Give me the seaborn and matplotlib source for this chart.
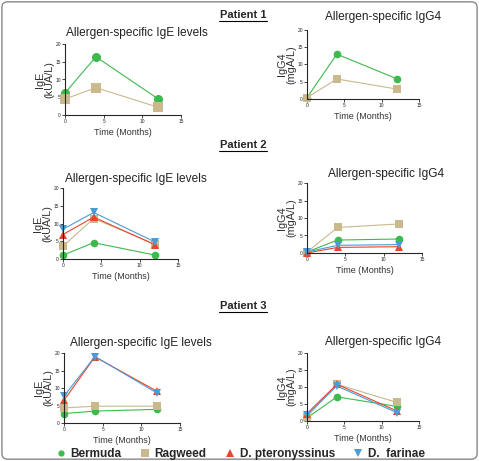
import matplotlib
matplotlib.use("Agg")
import matplotlib.pyplot as plt
import seaborn as sns
import pandas as pd
from matplotlib.patches import FancyBboxPatch
from matplotlib.lines import Line2D

# ------------ data ------------ #
months = [0, 4, 12]
allergens = ["Bermuda", "Ragweed", "D. pteronyssinus", "D.  farinae"]

p1_ige = {"Bermuda": [6.2, 16.4, 4.6], "Ragweed": [4.5, 7.7, 2.2]}
p1_igg4 = {"Bermuda": [0.4, 13.0, 5.9], "Ragweed": [0.4, 5.8, 2.9]}

p2_ige = {"Bermuda": [1.1, 4.6, 1.1], "Ragweed": [3.6, 11.4, 4.2],
          "D. pteronyssinus": [6.9, 11.8, 4.0], "D.  farinae": [8.4, 13.1, 4.8]}
p2_igg4 = {"Bermuda": [0.3, 3.7, 4.0], "Ragweed": [0.3, 7.3, 8.3],
           "D. pteronyssinus": [0.0, 1.6, 1.8], "D.  farinae": [0.3, 2.2, 2.4]}

p3_ige = {"Bermuda": [2.7, 3.4, 3.9], "Ragweed": [4.3, 4.8, 4.8],
          "D. pteronyssinus": [6.5, 18.9, 9.1], "D.  farinae": [7.7, 19.0, 8.6]}
p3_igg4 = {"Bermuda": [0.9, 7.1, 4.3], "Ragweed": [1.2, 10.8, 5.5],
           "D. pteronyssinus": [2.2, 10.8, 3.0], "D.  farinae": [1.8, 10.3, 2.5]}

colors = {"Bermuda": "#3dba4e", "Ragweed": "#c9b98c",
          "D. pteronyssinus": "#e8452c", "D.  farinae": "#4b9bd6"}
markers = {"Bermuda": "o", "Ragweed": "s", "D. pteronyssinus": "^", "D.  farinae": "v"}


def to_long(d):
    rows = []
    for k, vals in d.items():
        for m, v in zip(months, vals):
            rows.append({"Month": m, "Value": v, "Allergen": k})
    return pd.DataFrame(rows)


sns.set_style("ticks")
plt.rcParams["font.family"] = ["Liberation Sans", "DejaVu Sans"]

W, H = 479, 461
fig = plt.figure(figsize=(W / 100, H / 100), dpi=100)


def px_axes(x0, x1, ytop, ybot):
    return fig.add_axes([x0 / W, 1 - ybot / H, (x1 - x0) / W, (ybot - ytop) / H])


def panel(ax, d, ylabel, title, tx, ty, msize):
    df = to_long(d)
    keys = list(d.keys())
    sns.lineplot(data=df, x="Month", y="Value", hue="Allergen", style="Allergen",
                 hue_order=keys, style_order=keys,
                 palette={k: colors[k] for k in keys},
                 markers={k: markers[k] for k in keys}, dashes=False,
                 markersize=msize, markeredgewidth=0, linewidth=0.8,
                 legend=False, ax=ax, clip_on=False)
    ax.set_xlim(0, 15)
    ax.set_ylim(0, 20)
    ax.set_xticks([0, 5, 10, 15])
    ax.set_yticks([0, 5, 10, 15, 20])
    ax.tick_params(labelsize=3.5, length=2, width=0.6, pad=1)
    for s in ["left", "bottom"]:
        ax.spines[s].set_linewidth(0.8)
    sns.despine(ax=ax)
    ax.set_xlabel("Time (Months)", fontsize=6.5, labelpad=3, color="#333333")
    ax.set_ylabel(ylabel, fontsize=7.8, labelpad=1, linespacing=0.9, color="#333333")
    fig.text(tx / W, 1 - ty / H, title, ha="center", va="center", fontsize=8.6, color="#222222")


ige_lab = "IgE\n(kUA/L)"
igg_lab = "IgG4\n(mgA/L)"

panel(px_axes(65, 181, 44, 115), p1_ige, ige_lab, "Allergen-specific IgE levels", 137, 33, 6.5)
panel(px_axes(307, 419, 30, 99), p1_igg4, igg_lab, "Allergen-specific IgG4", 383, 17, 5.5)
panel(px_axes(63, 178, 188, 259), p2_ige, ige_lab, "Allergen-specific IgE levels", 136, 179, 5.5)
panel(px_axes(307, 422, 183, 253), p2_igg4, igg_lab, "Allergen-specific IgG4", 386, 174, 5.5)
panel(px_axes(64, 180, 353, 423), p3_ige, ige_lab, "Allergen-specific IgE levels", 141, 343, 5.5)
panel(px_axes(307, 419, 353, 421), p3_igg4, igg_lab, "Allergen-specific IgG4", 383, 342, 5.5)

# patient headings
for label, y in [("Patient 1", 15), ("Patient 2", 145), ("Patient 3", 306)]:
    fig.text(243 / W, 1 - y / H, label, ha="center", va="center",
             fontsize=8, fontweight="bold")
    fig.add_artist(Line2D([(243 - 24) / W, (243 + 24) / W],
                          [1 - (y + 6) / H, 1 - (y + 6) / H], color="black", lw=0.8))

# legend
handles = [Line2D([], [], marker=markers[k], color=colors[k], linestyle="none",
                  markersize=5.5 if k != "Bermuda" else 4.5, markeredgewidth=0)
           for k in allergens]
fig.legend(handles, allergens, loc="center", bbox_to_anchor=(240 / W, 1 - 454 / H),
           ncol=4, frameon=False, prop={"weight": "bold", "size": 8.5},
           handletextpad=0.3, columnspacing=1.5, handlelength=1.0)

# rounded border around the figure
fig.add_artist(FancyBboxPatch((0.004, 0.004), 0.992, 0.992,
                              boxstyle="round,pad=0,rounding_size=0.012",
                              transform=fig.transFigure, fill=False,
                              edgecolor="#888888", lw=1.0))

fig.savefig("out.png", dpi=100)
